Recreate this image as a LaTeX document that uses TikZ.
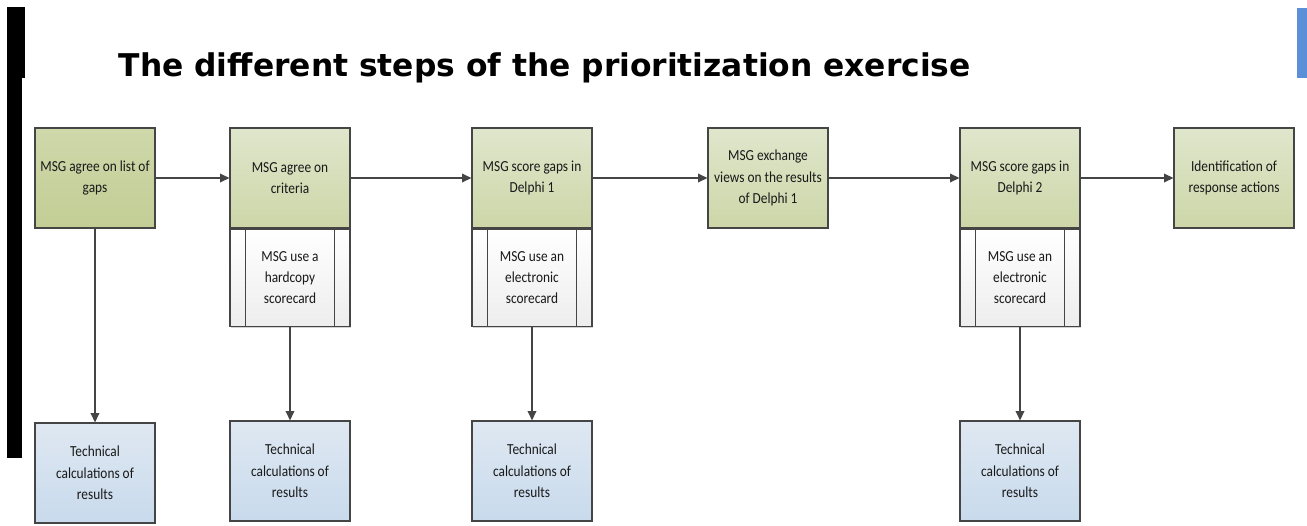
\documentclass[tikz,border=0pt]{standalone}
\usepackage{fontspec}
\setmainfont{Carlito}
\newfontfamily\boxfont[FakeStretch=0.87]{Carlito}
\newfontfamily\titlefont{DejaVu Sans}
\usepackage{tikz}
\usetikzlibrary{arrows.meta, shadows}

\definecolor{stepgreen}{HTML}{CDD6A8}
\definecolor{stepgreenlight}{HTML}{E0E6CC}
\definecolor{firstgreen}{HTML}{C3CD95}
\definecolor{firstgreenlight}{HTML}{CFD8AA}
\definecolor{calcblue}{HTML}{C8DAEC}
\definecolor{calcbluelight}{HTML}{DFE8F2}
\definecolor{edgegrey}{HTML}{454545}
\definecolor{barblue}{HTML}{5B8FD8}

\begin{document}
\begin{tikzpicture}
  [
    x = 0.75pt, y = -0.75pt,
    every node/.style = {font=\boxfont\fontsize{11.5}{16}\selectfont, align=center, text=black!90},
    box/.style = {draw=edgegrey, line width=0.9pt, rectangle, inner sep=1pt,
                  minimum width=90pt, minimum height=75pt,
                  drop shadow={shadow xshift=1pt, shadow yshift=-1pt, fill=black!35, opacity=0.5}},
    stepbox/.style = {box, top color=stepgreenlight, bottom color=stepgreen},
    firstbox/.style = {box, top color=firstgreenlight, bottom color=firstgreen},
    cardbox/.style = {box, minimum height=72.75pt, top color=white, bottom color=black!7},
    calcbox/.style = {box, top color=calcbluelight, bottom color=calcblue},
    arr/.style = {draw=edgegrey, line width=1pt, -{Triangle[length=7pt, width=6.5pt]}}
  ]
  \useasboundingbox (0,0) rectangle (1307,525);

  % side bars and title
  \fill[black] (7,7) rectangle (25,78);
  \fill[black] (7,78) rectangle (22,458);
  \fill[barblue] (1297,8) rectangle (1307,78);
  \node[anchor=base west, font=\titlefont\bfseries\fontsize{23.5}{26}\selectfont, text=black]
    (Title) at (114,76) {The different steps of the prioritization exercise};

  % main steps
  \node[firstbox] (Gaps)     at (95,178)   {MSG agree on list of\\gaps};
  \node[stepbox]  (Criteria) at (290,178)  {MSG agree on\\criteria};
  \node[stepbox]  (DelphiA)  at (532,178)  {MSG score gaps in\\Delphi 1};
  \node[stepbox]  (Exchange) at (768,178)  {MSG exchange\\views on the results\\of Delphi 1};
  \node[stepbox]  (DelphiB)  at (1020,178) {MSG score gaps in\\Delphi 2};
  \node[stepbox]  (Actions)  at (1234,178) {Identification of\\response actions};

  % scorecards
  \node[cardbox, anchor=north] (CriteriaCard) at (Criteria.south) {MSG use a\\hardcopy\\scorecard};
  \node[cardbox, anchor=north] (DelphiACard)  at (DelphiA.south)  {MSG use an\\electronic\\scorecard};
  \node[cardbox, anchor=north] (DelphiBCard)  at (DelphiB.south)  {MSG use an\\electronic\\scorecard};
  \foreach \card in {CriteriaCard, DelphiACard, DelphiBCard} {
    \draw[edgegrey, line width=0.9pt] ([xshift=12pt]\card.north west) -- ([xshift=12pt]\card.south west);
    \draw[edgegrey, line width=0.9pt] ([xshift=-12pt]\card.north east) -- ([xshift=-12pt]\card.south east);
  }

  % calculations
  \node[calcbox] (GapsCalc)     at (95,473)   {Technical\\calculations of\\results};
  \node[calcbox] (CriteriaCalc) at (290,471)  {Technical\\calculations of\\results};
  \node[calcbox] (DelphiACalc)  at (532,471)  {Technical\\calculations of\\results};
  \node[calcbox] (DelphiBCalc)  at (1020,471) {Technical\\calculations of\\results};

  \draw[arr] (Gaps) -- (Criteria);
  \draw[arr] (Criteria) -- (DelphiA);
  \draw[arr] (DelphiA) -- (Exchange);
  \draw[arr] (Exchange) -- (DelphiB);
  \draw[arr] (DelphiB) -- (Actions);
  \draw[arr] (Gaps) -- (GapsCalc);
  \draw[arr] (CriteriaCard) -- (CriteriaCalc);
  \draw[arr] (DelphiACard) -- (DelphiACalc);
  \draw[arr] (DelphiBCard) -- (DelphiBCalc);
\end{tikzpicture}
\end{document}
